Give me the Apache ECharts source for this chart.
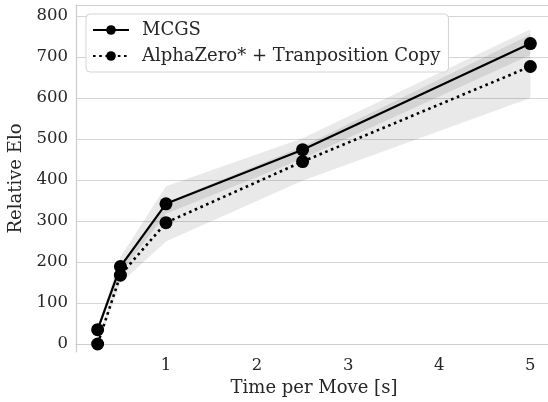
<!DOCTYPE html>
<html>
<head>
<meta charset="utf-8">
<script src="https://cdn.jsdelivr.net/npm/echarts@6/dist/echarts.min.js"></script>
<style>html,body{margin:0;padding:0;background:#fff}#c{width:548px;height:402px}</style>
</head>
<body>
<div id="c"></div>
<script>
var times = [0.25, 0.5, 1, 2.5, 5];
var mcgs = [35, 189, 342, 474, 733];
var mcgsLow = [30, 172, 318, 452, 705];
var mcgsHigh = [40, 212, 385, 502, 768];
var az = [0, 168, 296, 445, 677];
var azLow = [-3, 148, 250, 398, 600];
var azHigh = [3, 192, 345, 482, 755];
var xTicks = [1, 2, 3, 4, 5];
var yTicks = [0, 100, 200, 300, 400, 500, 600, 700, 800];
var names = ['MCGS', 'AlphaZero* + Tranposition Copy'];

var FONT = 'DejaVu Serif';
var TXT = '#262626';
function pairs(ys) { return times.map(function (t, i) { return [t, ys[i]]; }); }
var bandColor = 'rgba(0,0,0,0.085)';
function band(lo, hi) {
  return {
    type: 'custom', silent: true, z: 1,
    data: [[times[0], lo[0]]],
    renderItem: function (params, api) {
      var pts = [];
      for (var i = 0; i < times.length; i++) pts.push(api.coord([times[i], hi[i]]));
      for (var j = times.length - 1; j >= 0; j--) pts.push(api.coord([times[j], lo[j]]));
      return { type: 'polygon', shape: { points: pts }, style: { fill: bandColor } };
    }
  };
}

var chart = echarts.init(document.getElementById('c'), null, { renderer: 'canvas' });
chart.setOption({
  animation: false,
  backgroundColor: '#fff',
  grid: { left: 76, top: 5, width: 476, bottom: 50, outerBoundsMode: 'none', containLabel: false, show: false },
  legend: {
    data: names, orient: 'vertical', left: 86, top: 14,
    padding: [7, 8, 7, 6], itemGap: 8, itemWidth: 36, itemHeight: 12,
    backgroundColor: '#fff', borderColor: '#d4d4d4', borderWidth: 1, borderRadius: 4,
    textStyle: { fontFamily: FONT, fontSize: 18, color: TXT, padding: [0, 0, 0, 8] }
  },
  xAxis: [{
    type: 'value', min: 0.0125, max: 5.2375,
    name: 'Time per Move [s]', nameLocation: 'middle', nameGap: 23,
    nameTextStyle: { fontFamily: FONT, fontSize: 18, color: TXT },
    axisLine: { show: true, lineStyle: { color: '#cccccc', width: 1.2 } },
    axisTick: { show: false, customValues: xTicks },
    axisLabel: { customValues: xTicks, fontFamily: FONT, fontSize: 16.5, color: TXT, margin: 5 },
    splitLine: { show: false }
  }, {
    type: 'value', position: 'top', min: 0.0125, max: 5.2375,
    axisLine: { show: true, lineStyle: { color: '#cccccc', width: 1.2 } },
    axisTick: { show: false }, axisLabel: { show: false }, splitLine: { show: false }
  }],
  yAxis: {
    type: 'value', min: -19.5, max: 827,
    name: 'Relative Elo', nameLocation: 'middle', nameGap: 41,
    nameTextStyle: { fontFamily: FONT, fontSize: 18, color: TXT },
    axisLine: { show: true, lineStyle: { color: '#cccccc', width: 1.2 } },
    axisTick: { show: false, customValues: yTicks },
    axisLabel: { customValues: yTicks, fontFamily: FONT, fontSize: 16.5, color: TXT, margin: 8 },
    splitLine: { show: true, lineStyle: { color: '#d6d6d6', width: 1.2 } }
  },
  series: [
    band(mcgsLow, mcgsHigh),
    band(azLow, azHigh),
    { type: 'line', name: names[0], data: pairs(mcgs), symbol: 'circle', symbolSize: 13,
      itemStyle: { color: '#000' }, lineStyle: { color: '#000', width: 2.2, type: 'solid' }, z: 3 },
    { type: 'line', name: names[1], data: pairs(az), symbol: 'circle', symbolSize: 13,
      itemStyle: { color: '#000' }, lineStyle: { color: '#000', width: 2.6, type: [2.6, 3.6] }, z: 3 }
  ]
});
</script>
</body>
</html>
